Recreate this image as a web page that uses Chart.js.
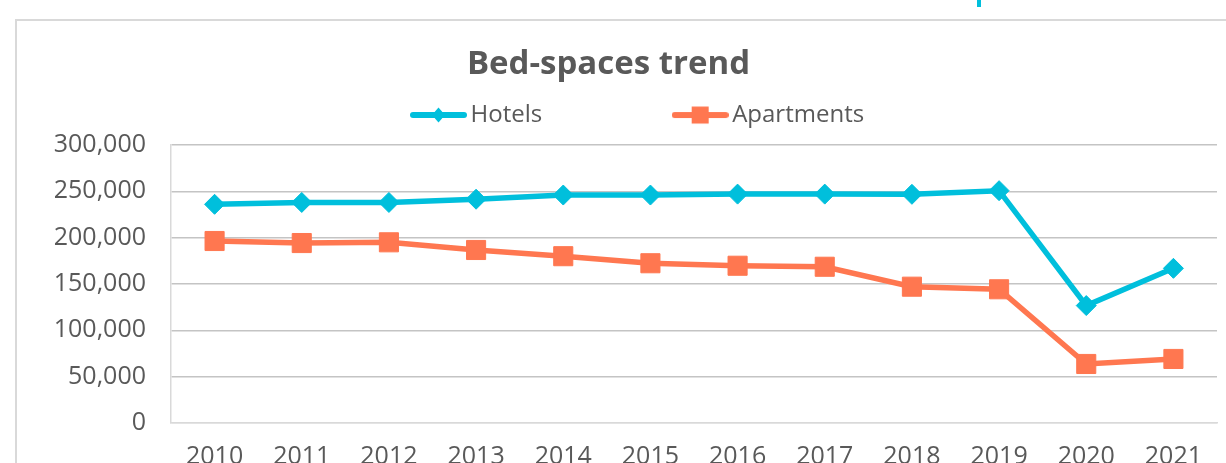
<!DOCTYPE html>
<html>
<head>
<meta charset="utf-8">
<script src="https://cdn.jsdelivr.net/npm/chart.js@4.4.1/dist/chart.umd.min.js"></script>
<style>
  html, body { margin: 0; padding: 0; background: #ffffff; overflow: hidden; }
  #wrap { width: 1226px; height: 463px; overflow: hidden; position: relative; }
  canvas { display: block; }
</style>
</head>
<body>
<div id="wrap"><canvas id="c" width="1226" height="500"></canvas></div>
<script>
// ---- data ----
const years = ['2010','2011','2012','2013','2014','2015','2016','2017','2018','2019','2020','2021'];
const hotels = [236000, 238000, 238000, 241500, 246000, 246000, 247000, 247000, 246800, 250700, 126700, 166900];
const apartments = [196400, 194200, 195000, 186700, 180000, 172400, 169700, 168600, 147100, 144300, 63700, 69100];
const yTicks = [0, 50000, 100000, 150000, 200000, 250000, 300000];
const seriesNames = ['Hotels', 'Apartments'];
const chartTitle = 'Bed-spaces trend';

// ---- style ----
const FONT = '"Open Sans", "Noto Sans", sans-serif';
const TEXT = '#595959';
const CYAN = '#00BFDC';
const ORANGE = '#FF7750';
const LEGEND_GAP = 138;
const LEGEND_X = 418.5;
const LEGEND_Y = 103;
const TITLE_PAD_TOP = 45;
const TITLE_SIZE = 33;
const AREA_TOP = 145;
const AREA_LEFT = 171;
const AREA_BOTTOM = 423;
const CANVAS_H = 500;

Chart.defaults.font.family = FONT;
Chart.defaults.color = TEXT;

function legendSample(color, marker) {
  const cv = document.createElement('canvas');
  cv.width = 57; cv.height = 20;
  const g = cv.getContext('2d');
  g.strokeStyle = color; g.fillStyle = color;
  g.lineWidth = 6; g.lineCap = 'round';
  g.beginPath(); g.moveTo(3, 10); g.lineTo(54, 10); g.stroke();
  g.beginPath();
  if (marker === 'diamond') {
    g.moveTo(28.5, 2.5); g.lineTo(35, 10); g.lineTo(28.5, 17.5); g.lineTo(22, 10); g.closePath();
  } else {
    g.rect(20, 1.5, 17, 17);
  }
  g.fill();
  return cv;
}
const legendImgs = [legendSample(CYAN, 'diamond'), legendSample(ORANGE, 'square')];

const titleBoxH = TITLE_PAD_TOP + TITLE_SIZE * 1.2;
const legendBoxH = AREA_TOP - titleBoxH;

const legendPlace = {
  id: 'legendPlace',
  afterInit(chart) {
    const lg = chart.legend;
    const fit = lg.fit;
    lg.fit = function () { fit.call(this); this.height = legendBoxH; };
    const inner = lg._draw;
    lg._draw = function () {
      const c = this.ctx;
      c.save();
      c.translate(LEGEND_X - (this.left + LEGEND_GAP), LEGEND_Y - (this.top + LEGEND_GAP));
      inner.apply(this, arguments);
      c.restore();
    };
  }
};

const frame = {
  id: 'frame',
  beforeDraw(chart) {
    const c = chart.ctx;
    c.save();
    c.fillStyle = '#ffffff';
    c.fillRect(0, 0, chart.width, chart.height);
    c.strokeStyle = '#d9d9d9';
    c.lineWidth = 2;
    c.beginPath();
    c.moveTo(16, chart.height + 5); c.lineTo(16, 20); c.lineTo(chart.width + 5, 20);
    c.stroke();
    c.fillStyle = CYAN;
    c.fillRect(977, 0, 4, 7);
    c.restore();
  }
};

new Chart(document.getElementById('c'), {
  type: 'line',
  data: {
    labels: years,
    datasets: [
      { label: seriesNames[0], data: hotels, borderColor: CYAN, backgroundColor: CYAN, borderWidth: 5.5, tension: 0,
        pointStyle: 'rectRot', pointRadius: 10, pointBorderWidth: 1, pointBackgroundColor: CYAN, pointBorderColor: CYAN, pointHoverRadius: 10 },
      { label: seriesNames[1], data: apartments, borderColor: ORANGE, backgroundColor: ORANGE, borderWidth: 5.5, tension: 0,
        pointStyle: 'rect', pointRadius: 13.5, pointBorderWidth: 1, pointBackgroundColor: ORANGE, pointBorderColor: ORANGE, pointHoverRadius: 13.5 }
    ]
  },
  options: {
    responsive: false, animation: false, devicePixelRatio: 1,
    layout: { autoPadding: false, padding: { left: 0, right: 9, top: 0, bottom: 0 } },
    plugins: {
      tooltip: { enabled: false },
      title: { display: true, text: chartTitle, color: TEXT, font: { size: TITLE_SIZE, weight: 'bold', family: FONT }, padding: { top: TITLE_PAD_TOP, bottom: 0 } },
      legend: {
        display: true, position: 'top', align: 'start',
        labels: {
          usePointStyle: true, pointStyleWidth: 40, padding: LEGEND_GAP, color: TEXT, font: { size: 24, family: FONT },
          generateLabels(chart) {
            const items = Chart.defaults.plugins.legend.labels.generateLabels(chart);
            items.forEach((it, i) => { it.pointStyle = legendImgs[i]; });
            return items;
          }
        }
      }
    },
    scales: {
      x: {
        offset: true,
        grid: { display: false, drawTicks: false },
        border: { display: true, color: '#d9d9d9', width: 1.5 },
        ticks: { color: TEXT, font: { size: 25, family: FONT, lineHeight: '68px' }, padding: 0, maxRotation: 0, autoSkip: false },
        afterFit(s) { s.height = CANVAS_H - AREA_BOTTOM; }
      },
      y: {
        min: 0, max: 300000,
        afterBuildTicks(s) { s.ticks = yTicks.map(v => ({ value: v })); },
        grid: { drawTicks: false, color: ctx => (ctx.tick && ctx.tick.value === 0) ? '#d9d9d9' : '#c4c4c4', lineWidth: 1.5 },
        border: { display: true, color: '#d9d9d9', width: 1.5 },
        ticks: { color: TEXT, font: { size: 25, family: FONT }, padding: 25, callback: v => Number(v).toLocaleString('en-US') },
        afterFit(s) { s.width = AREA_LEFT; }
      }
    }
  },
  plugins: [frame, legendPlace]
});
</script>
</body>
</html>
